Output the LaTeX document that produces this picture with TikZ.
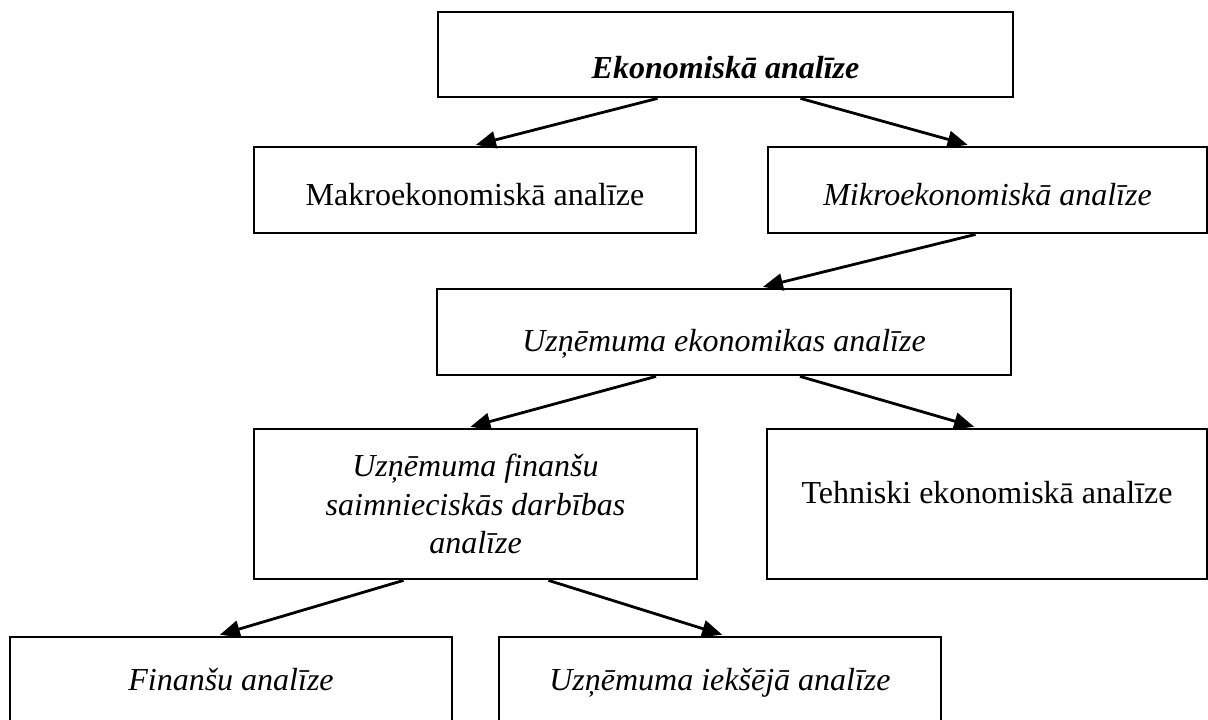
\documentclass[tikz,border=0pt]{standalone}
\usepackage{fontspec}
\setmainfont{Liberation Serif}
\usetikzlibrary{arrows.meta,calc}
\begin{document}
\begin{tikzpicture}[x=1pt,y=-1pt,
  box/.style={draw, line width=2.8pt, inner xsep=0pt, inner ysep=0pt,
    font=\fontsize{32}{38.5}\selectfont, align=center},
  arr/.style={line width=2.8pt, shorten >=3pt, -{Triangle[length=20pt,width=17pt]}}]
\clip (0,0) rectangle (1208,720);
\node[box, minimum width=575pt, minimum height=85pt, text height=66pt, text depth=19pt] (top) at (725.5,54.5) {\textbf{\textit{Ekonomiskā analīze}}};
\node[box, minimum width=442pt, minimum height=86pt, text height=58pt, text depth=28pt] (makro) at (475,190) {Makroekonomiskā analīze};
\node[box, minimum width=439pt, minimum height=86pt, text height=58pt, text depth=28pt] (mikro) at (987.5,190) {\textit{Mikroekonomiskā analīze}};
\node[box, minimum width=574pt, minimum height=86pt, text height=62pt, text depth=24pt] (uzek) at (724,332) {\textit{Uzņēmuma ekonomikas analīze}};
\node[box, minimum width=443pt, minimum height=150pt] (finsaim) at (475.5,504) {\textit{Uzņēmuma finanšu}\\\textit{saimnieciskās darbības}\\\textit{analīze}};
\node[box, minimum width=440pt, minimum height=150pt, text height=74pt, text depth=76pt] (tehn) at (987,504) {Tehniski ekonomiskā analīze};
\node[box, minimum width=442pt, minimum height=88pt, text height=53pt, text depth=35pt] (fin) at (231,681) {\textit{Finanšu analīze}};
\node[box, minimum width=442pt, minimum height=88pt, text height=53pt, text depth=35pt] (iek) at (720,681) {\textit{Uzņēmuma iekšējā analīze}};
\draw[arr] ([xshift=-68pt]top.south) -- ([xshift=-2pt]makro.north);
\draw[arr] ([xshift=75pt]top.south) -- ([xshift=-17pt]mikro.north);
\draw[arr] ([xshift=-12pt]mikro.south) -- ([xshift=36pt]uzek.north);
\draw[arr] ([xshift=-68pt]uzek.south) -- ([xshift=-8pt]finsaim.north);
\draw[arr] ([xshift=76pt]uzek.south) -- ([xshift=-10pt]tehn.north);
\draw[arr] ([xshift=-72pt]finsaim.south) -- ([xshift=-14pt]fin.north);
\draw[arr] ([xshift=73pt]finsaim.south) -- ([xshift=5pt]iek.north);
\end{tikzpicture}
\end{document}
